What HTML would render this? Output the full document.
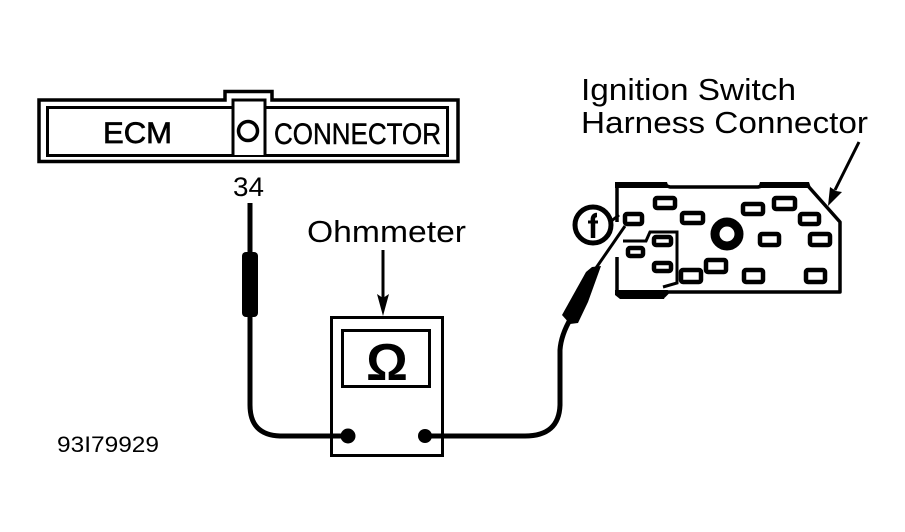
<!DOCTYPE html>
<html><head><meta charset="utf-8"><style>
html,body{margin:0;padding:0;background:#fff}
svg{display:block}
text{font-family:"Liberation Sans",sans-serif;fill:#000}
</style></head><body>
<svg width="905" height="532" viewBox="0 0 905 532" xmlns="http://www.w3.org/2000/svg">
<g fill="none" stroke="#000">
<path d="M39 100H225V91.500H272V100H458V161.500H39Z" stroke-width="3.500" fill="#fff"/>
<rect x="47.500" y="107.500" width="400" height="48" stroke-width="3"/>
<path d="M233 155V100H265V155" stroke-width="3" fill="#fff"/>
<circle cx="248" cy="131" r="9.500" stroke-width="3.500"/>
</g>
<text x="103" y="143" font-size="30" stroke="#000" stroke-width=".7" textLength="69" lengthAdjust="spacingAndGlyphs">ECM</text>
<text x="274" y="144" font-size="30" stroke="#000" stroke-width=".5" textLength="167" lengthAdjust="spacingAndGlyphs">CONNECTOR</text>
<text x="233" y="196" font-size="27" textLength="31" lengthAdjust="spacingAndGlyphs">34</text>
<text x="307" y="242" font-size="31" textLength="159" lengthAdjust="spacingAndGlyphs">Ohmmeter</text>
<text x="581" y="100" font-size="31" textLength="215" lengthAdjust="spacingAndGlyphs">Ignition Switch</text>
<text x="581" y="133" font-size="31" textLength="287" lengthAdjust="spacingAndGlyphs">Harness Connector</text>
<text x="57" y="452" font-size="22" textLength="102" lengthAdjust="spacingAndGlyphs">93I79929</text>

<!-- left probe -->
<path d="M250 203V252M250 315V405Q250 435 280 436H345" fill="none" stroke="#000" stroke-width="5"/>
<rect x="242" y="252" width="16" height="65" rx="4" fill="#000"/>

<!-- ohmmeter arrow -->
<path d="M383 250V300" stroke="#000" stroke-width="3"/>
<path d="M377 294L383 298L389 294L383 316Z" fill="#000"/>

<!-- meter -->
<rect x="331.500" y="317.500" width="111" height="138" fill="#fff" stroke="#000" stroke-width="3"/>
<rect x="342.500" y="330.500" width="87" height="56" fill="none" stroke="#000" stroke-width="3"/>
<text x="387" y="380" font-size="52" font-weight="bold" text-anchor="middle">Ω</text>
<path d="M331 436H346" stroke="#000" stroke-width="5"/>
<circle cx="348" cy="436" r="7.500" fill="#000"/>
<circle cx="425" cy="436" r="7" fill="#000"/>

<!-- right probe wire and body -->
<path d="M425 436H525Q559 436 560 405V350Q561 335 571 318" fill="none" stroke="#000" stroke-width="5"/>
<path d="M562 315L586 272L592 267L601 266L588 302L578 323L570 324Z" fill="#000"/>

<!-- harness connector -->
<path d="M617 222V186H667L670 187H758L762 186H808L840 222V292H668L664 296H620L617 293V257" fill="#fff" stroke="#000" stroke-width="3.500" stroke-linejoin="round"/>
<path d="M615 182H667L669 188H615ZM760 182H809L811 188H758ZM615 290H668L664 299H620L615 295Z" fill="#000"/>
<path d="M623 241H646L650 232H677V283L663 287" fill="none" stroke="#000" stroke-width="3"/>
<g fill="#fff" stroke="#000" stroke-width="4.500">
<rect x="655" y="198" width="20" height="10" rx="2"/>
<rect x="682" y="213" width="21" height="10" rx="2"/>
<rect x="743" y="204" width="20" height="10" rx="2"/>
<rect x="774" y="198" width="21" height="11" rx="2"/>
<rect x="800" y="214" width="19" height="10" rx="2"/>
<rect x="760" y="234" width="19" height="11" rx="2"/>
<rect x="810" y="234" width="20" height="11" rx="2"/>
<rect x="625" y="214" width="17" height="10" rx="2"/>
<rect x="654" y="237" width="17" height="8" rx="2"/>
<rect x="628" y="248" width="15" height="8" rx="2"/>
<rect x="654" y="263" width="17" height="8" rx="2"/>
<rect x="681" y="270" width="20" height="12" rx="2"/>
<rect x="706" y="260" width="20" height="12" rx="2"/>
<rect x="744" y="270" width="19" height="12" rx="2"/>
<rect x="806" y="270" width="19" height="12" rx="2"/>
</g>
<circle cx="727" cy="234" r="12" fill="#fff" stroke="#000" stroke-width="9"/>
<circle cx="593" cy="225" r="18" fill="#fff" stroke="#000" stroke-width="5"/>
<path d="M597 215Q592 215 593 222V238" fill="none" stroke="#000" stroke-width="4.500"/>
<path d="M588 222H598" stroke="#000" stroke-width="3"/>
<path d="M610 222L619 215" stroke="#000" stroke-width="3"/>
<path d="M596 268L625 226" stroke="#000" stroke-width="3"/>
<!-- harness arrow -->
<path d="M859 142L835 190" stroke="#000" stroke-width="3"/>
<path d="M828 206L830 187L836 191L842 192Z" fill="#000"/>
</svg>
</body></html>
